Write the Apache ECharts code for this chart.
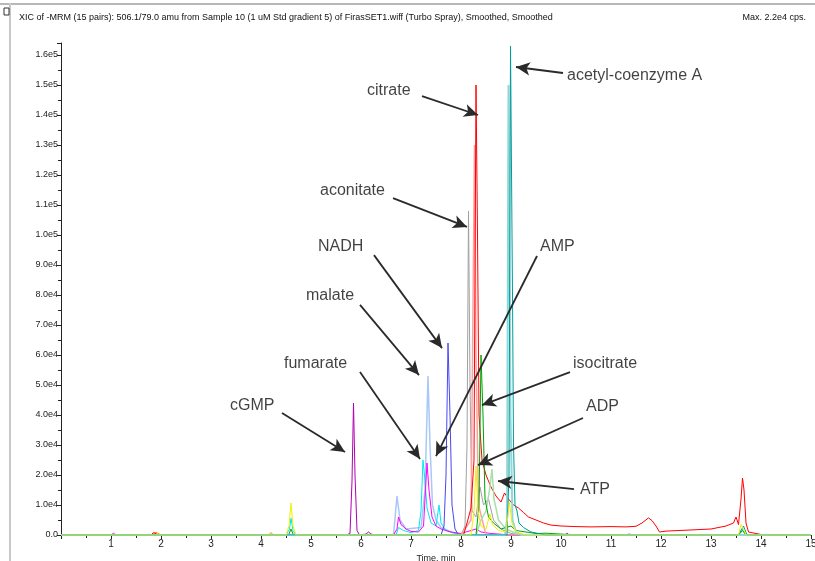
<!DOCTYPE html>
<html lang="en">
<head>
    <meta charset="UTF-8">
    <title>XIC of -MRM</title>
    <script src="https://cdn.jsdelivr.net/npm/echarts@6/dist/echarts.min.js"></script>
    <style>
        body { margin: 0; background: #fff; }
        #main { width: 815px; height: 561px; }
    </style>
</head>
<body>
<div id="main"></div>
<script type="text/javascript">
// traces: [time (min), intensity (cps)]
var cgmp = [[0,0],[5.7,0],[5.78,500],[5.82,18000],[5.85,44000],[5.88,20000],[5.92,1500],[5.97,0],[6.1,300],[6.15,1000],[6.2,300],[6.3,0],[15,0]];
var fumarate = [[0,0],[4.5,0],[4.57,2000],[4.6,5600],[4.64,1500],[4.7,0],[6.7,0],[6.75,2500],[6.85,1500],[7.0,800],[7.15,1500],[7.2,8000],[7.24,25000],[7.28,18000],[7.32,9000],[7.4,4000],[7.5,3000],[7.56,10000],[7.6,4000],[7.7,1500],[7.9,500],[8.2,0],[13.55,0],[13.62,2000],[13.7,0],[15,0]];
var malate = [[0,0],[6.65,0],[6.72,13000],[6.78,5000],[6.9,2000],[7.2,2500],[7.28,15000],[7.34,53000],[7.38,30000],[7.43,10000],[7.5,5000],[7.6,2500],[7.8,1000],[8.0,0],[15,0]];
var nadh = [[0,0],[7.6,0],[7.66,3000],[7.7,20000],[7.74,64000],[7.78,40000],[7.82,10000],[7.88,2000],[7.95,0],[15,0]];
var aconitate = [[0,0],[8.0,0],[8.08,3000],[8.12,30000],[8.15,108000],[8.18,50000],[8.22,8000],[8.3,6000],[8.38,16000],[8.45,10000],[8.55,12000],[8.65,5000],[8.8,2000],[9.0,500],[9.3,0],[15,0]];
var citrateHalo = [[0,0],[8.0,0],[8.2,5000],[8.27,130000],[8.3,60000],[8.35,10000],[8.5,0],[15,0]];
var citrate = [[0,0],[1.8,0],[1.85,800],[1.95,0],[8.05,0],[8.12,4000],[8.2,9000],[8.26,25000],[8.3,150000],[8.33,100000],[8.36,40000],[8.42,25000],[8.5,20000],[8.6,16000],[8.7,13000],[8.8,11000],[8.87,14000],[8.95,12000],[9.05,10000],[9.15,9000],[9.25,7500],[9.35,6000],[9.5,5000],[9.65,4000],[9.8,3300],[10.0,3000],[10.3,2800],[10.6,2700],[11.0,2800],[11.3,2700],[11.5,2900],[11.62,4000],[11.75,5700],[11.82,4800],[11.9,3000],[11.97,1000],[12.1,1300],[12.5,1600],[13.0,2000],[13.3,3000],[13.45,4000],[13.5,6000],[13.55,3500],[13.6,12000],[13.63,19000],[13.66,15000],[13.7,4000],[13.75,1000],[13.9,500],[14.05,0],[15,0]];
var amp = [[0,0],[1.0,0],[1.05,600],[1.1,0],[6.65,0],[6.72,2000],[6.75,6000],[6.8,3500],[6.9,2000],[7.0,1200],[7.15,1000],[7.25,3000],[7.32,24000],[7.36,15000],[7.42,6000],[7.5,3000],[7.6,2000],[7.8,1000],[8.0,500],[8.3,2000],[8.4,1000],[8.6,500],[9.0,0],[10.1,0],[10.12,700],[10.15,0],[11.3,0],[11.35,300],[11.5,0],[15,0]];
var isocitrate = [[0,0],[4.55,0],[4.6,2000],[4.65,0],[8.3,0],[8.36,10000],[8.4,60000],[8.44,40000],[8.48,12000],[8.55,6000],[8.65,4000],[8.8,2000],[9.0,3000],[9.1,1500],[9.5,500],[9.7,600],[10.0,300],[10.5,0],[13.55,0],[13.63,1500],[13.7,0],[15,0]];
var adp = [[0,0],[4.5,0],[4.56,3000],[4.6,10700],[4.64,3000],[4.7,0],[8.2,0],[8.26,8000],[8.3,23000],[8.34,8000],[8.4,3000],[8.5,2000],[8.58,7000],[8.63,3500],[8.75,1500],[8.9,1000],[8.97,11000],[9.02,4000],[9.1,1000],[9.3,0],[13.55,0],[13.6,3500],[13.65,2000],[13.7,0],[15,0]];
var atp = [[0,0],[8.3,0],[8.4,5000],[8.5,8000],[8.57,15000],[8.62,22000],[8.66,12000],[8.75,5000],[8.9,2000],[9.1,500],[9.3,0],[15,0]];
var acetylHalo = [[0,0],[8.88,0],[8.92,5000],[8.95,150000],[8.99,40000],[9.03,5000],[9.1,1000],[9.2,0],[15,0]];
var acetylcoa = [[0,0],[8.92,0],[8.96,20000],[8.99,163000],[9.03,80000],[9.05,30000],[9.08,10000],[9.12,8000],[9.16,4000],[9.25,2500],[9.4,1000],[9.7,0],[13.55,0],[13.65,3000],[13.72,0],[15,0]];
var other = [[0,0],[1.8,0],[1.9,900],[2.0,0],[4.15,0],[4.2,800],[4.25,0],[15,0]];

// annotations: text anchor, arrow start, arrow end (data units)
var labelNames = ['acetyl-coenzyme A','citrate','aconitate','NADH','AMP','malate','fumarate','cGMP','isocitrate','ADP','ATP'];
var labelPos = [[10.12,153000],[6.12,148300],[5.18,114700],[5.14,96300],[9.58,96300],[4.9,79700],[4.46,57000],[3.38,43300],[10.24,57000],[10.5,42700],[10.38,15000]];
var arrowFrom = [[10.04,154000],[7.22,146300],[6.64,112300],[6.26,93300],[9.52,93000],[5.98,76700],[5.98,54300],[4.42,40700],[10.18,54300],[10.44,39000],[10.26,15300]];
var arrowTo = [[9.1,156000],[8.34,140000],[8.12,102700],[7.62,62300],[7.5,26300],[7.16,53300],[7.18,25300],[5.68,27700],[8.42,43300],[8.34,23300],[8.74,18000]];

var titleText = 'XIC of -MRM (15 pairs): 506.1/79.0 amu from Sample 10 (1 uM Std gradient 5) of FirasSET1.wiff (Turbo Spray), Smoothed, Smoothed';

var chart = echarts.init(document.getElementById('main'));

function trace(name, data, color, width) {
    return {
        name: name,
        type: 'line',
        data: data,
        symbol: 'none',
        silent: true,
        lineStyle: {color: color, width: width || 1},
        itemStyle: {color: color}
    };
}

var series = [
    trace('other', other, '#FF8C00'),
    trace('cGMP', cgmp, '#B000B0'),
    trace('malate', malate, '#A8C8F8', 1.5),
    trace('fumarate', fumarate, '#00E8F0'),
    trace('AMP', amp, '#FF00FF'),
    trace('NADH', nadh, '#4848F0'),
    trace('aconitate', aconitate, '#A0A0A0'),
    trace('citrate halo', citrateHalo, '#FFA0A0', 1.5),
    trace('citrate', citrate, '#FF0000'),
    trace('ATP', atp, '#A8E0A8', 1.5),
    trace('isocitrate', isocitrate, '#00A000'),
    trace('acetyl halo', acetylHalo, '#90D8D8', 2),
    trace('acetyl-coenzyme A', acetylcoa, '#009A9A'),
    trace('ADP', adp, '#F0F000')
];

var arrows = [];
for (var i = 0; i < labelNames.length; i++) {
    arrows.push([{coord: arrowFrom[i]}, {coord: arrowTo[i]}]);
}

series.push({
    name: 'labels',
    type: 'scatter',
    symbolSize: 0,
    silent: true,
    data: labelPos.map(function (p, i) { return {value: p, name: labelNames[i]}; }),
    label: {
        show: true,
        position: 'inside',
        align: 'left',
        verticalAlign: 'middle',
        formatter: '{b}',
        fontFamily: 'Liberation Sans, Arial, sans-serif',
        fontSize: 16,
        color: '#111'
    },
    markLine: {
        silent: true,
        animation: false,
        symbol: ['none', 'arrow'],
        symbolSize: [10, 14],
        label: {show: false},
        lineStyle: {color: '#2a2a2a', width: 1.8, type: 'solid'},
        data: arrows
    }
});

var option = {
    animation: false,
    title: [{
        text: titleText,
        left: 14,
        top: 8,
        textStyle: {fontFamily: 'Liberation Sans Narrow, Liberation Sans, Arial', fontSize: 9, fontWeight: 'normal', color: '#111'}
    }, {
        text: 'Max. 2.2e4 cps.',
        right: 4,
        top: 8,
        textStyle: {fontFamily: 'Liberation Sans Narrow, Liberation Sans, Arial', fontSize: 9, fontWeight: 'normal', color: '#111'}
    }],
    graphic: [
        {type: 'rect', shape: {x: 0, y: 3, width: 815, height: 2}, style: {fill: '#B8B8B8'}},
        {type: 'rect', shape: {x: 9, y: 3, width: 2, height: 558}, style: {fill: '#C8C8C8'}},
        {type: 'rect', shape: {x: 4, y: 8, width: 5, height: 7}, style: {fill: '#fff', stroke: '#333', lineWidth: 1}}
    ],
    grid: {left: 61, right: 4, top: 43, bottom: 26, outerBoundsMode: 'none'},
    xAxis: {
        type: 'value',
        min: 0,
        max: 15,
        interval: 1,
        name: 'Time, min',
        nameLocation: 'middle',
        nameGap: 16,
        nameTextStyle: {fontFamily: 'Liberation Sans Narrow, Liberation Sans, Arial', fontSize: 9, color: '#222'},
        axisLine: {lineStyle: {color: '#222', width: 1}},
        axisTick: {length: 4, lineStyle: {color: '#222'}},
        minorTick: {show: true, splitNumber: 2, length: 3, lineStyle: {color: '#222'}},
        splitLine: {show: false},
        axisLabel: {
            fontFamily: 'Liberation Sans, Arial',
            fontSize: 10,
            color: '#222',
            margin: 4,
            formatter: function (v) { return v === 0 ? '' : String(v); }
        }
    },
    yAxis: {
        type: 'value',
        min: 0,
        max: 164000,
        interval: 10000,
        axisLine: {show: true, lineStyle: {color: '#222', width: 1}},
        axisTick: {show: true, length: 4, lineStyle: {color: '#222'}},
        minorTick: {show: true, splitNumber: 2, length: 3, lineStyle: {color: '#222'}},
        splitLine: {show: false},
        axisLabel: {
            showMaxLabel: false,
            fontFamily: 'Liberation Sans Narrow, Liberation Sans, Arial',
            fontSize: 9,
            color: '#222',
            margin: 3,
            formatter: function (v) {
                if (v === 0) return '0.0';
                return v.toExponential(1).replace('+', '');
            }
        }
    },
    series: series
};

chart.setOption(option);
</script>
</body>
</html>
